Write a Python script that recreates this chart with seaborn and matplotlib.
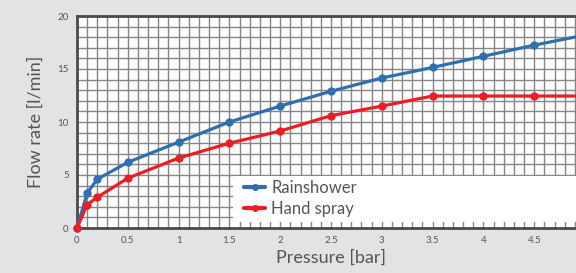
import matplotlib
matplotlib.use("Agg")
import matplotlib.pyplot as plt
from matplotlib.patches import Rectangle
from matplotlib.ticker import MultipleLocator, FuncFormatter
import seaborn as sns
import pandas as pd

# Data
pressure = [0, 0.1, 0.2, 0.5, 1, 1.5, 2, 2.5, 3, 3.5, 4, 4.5, 5]
rainshower = [0, 3.3, 4.6, 6.2, 8.1, 10.0, 11.5, 12.9, 14.15, 15.15, 16.2, 17.25, 18.2]
hand_spray = [0, 2.2, 2.9, 4.7, 6.6, 8.0, 9.15, 10.6, 11.5, 12.45, 12.45, 12.45, 12.45]
series_names = ["Rainshower", "Hand spray"]
colors = ["#2f6eaf", "#ee1c25"]

df = pd.concat([
    pd.DataFrame({"Pressure": pressure, "Flow": rainshower, "series": series_names[0]}),
    pd.DataFrame({"Pressure": pressure, "Flow": hand_spray, "series": series_names[1]}),
])

sns.set_theme(style="white")
plt.rcParams["font.family"] = ["Lato", "DejaVu Sans"]

bg = "#e2e3e5"
text_col = "#555555"
fig = plt.figure(figsize=(5.76, 2.73), dpi=100, facecolor=bg)
ax = fig.add_axes([77 / 576, 45 / 273, 508 / 576, 212 / 273])
ax.set_facecolor("white")

sns.lineplot(data=df, x="Pressure", y="Flow", hue="series", palette=colors,
             marker="o", markersize=6, markeredgewidth=0, linewidth=2.3,
             ax=ax, legend=False, zorder=3, clip_on=False)

ax.set_xlim(0, 5)
ax.set_ylim(0, 20)
ax.xaxis.set_major_locator(MultipleLocator(0.5))
ax.xaxis.set_minor_locator(MultipleLocator(0.1))
ax.yaxis.set_major_locator(MultipleLocator(5))
ax.yaxis.set_minor_locator(MultipleLocator(1))
ax.xaxis.set_major_formatter(FuncFormatter(lambda v, p: "" if v >= 5 else f"{v:g}"))
ax.set_axisbelow(True)
ax.grid(which="both", color="#858585", linewidth=1.0)
ax.tick_params(which="both", length=0, labelsize=7, labelcolor=text_col, pad=6)

for side in ["left", "bottom", "top"]:
    ax.spines[side].set_color("#4a4a4a")
    ax.spines[side].set_linewidth(2)
ax.spines["right"].set_visible(False)

# white legend panel covering the grid
ax.add_patch(Rectangle((0.307, 0.028), 0.72, 0.215, transform=ax.transAxes,
                       facecolor="white", edgecolor="none", zorder=1))
handles = [plt.Line2D([], [], color=c, marker="o", markersize=5, markeredgewidth=0,
                      linewidth=3) for c in colors]
leg = ax.legend(handles, series_names, loc="lower left", bbox_to_anchor=(0.315, 0.02),
                frameon=False, fontsize=12, handlelength=1.3, handletextpad=0.35,
                labelspacing=0.3, borderaxespad=0)
for t in leg.get_texts():
    t.set_color(text_col)

ax.set_xlabel("Pressure [bar]", fontsize=13, color=text_col, labelpad=3)
ax.set_ylabel("Flow rate [l/min]", fontsize=13, color=text_col, labelpad=10)

fig.savefig("out.png", dpi=100, facecolor=bg)
